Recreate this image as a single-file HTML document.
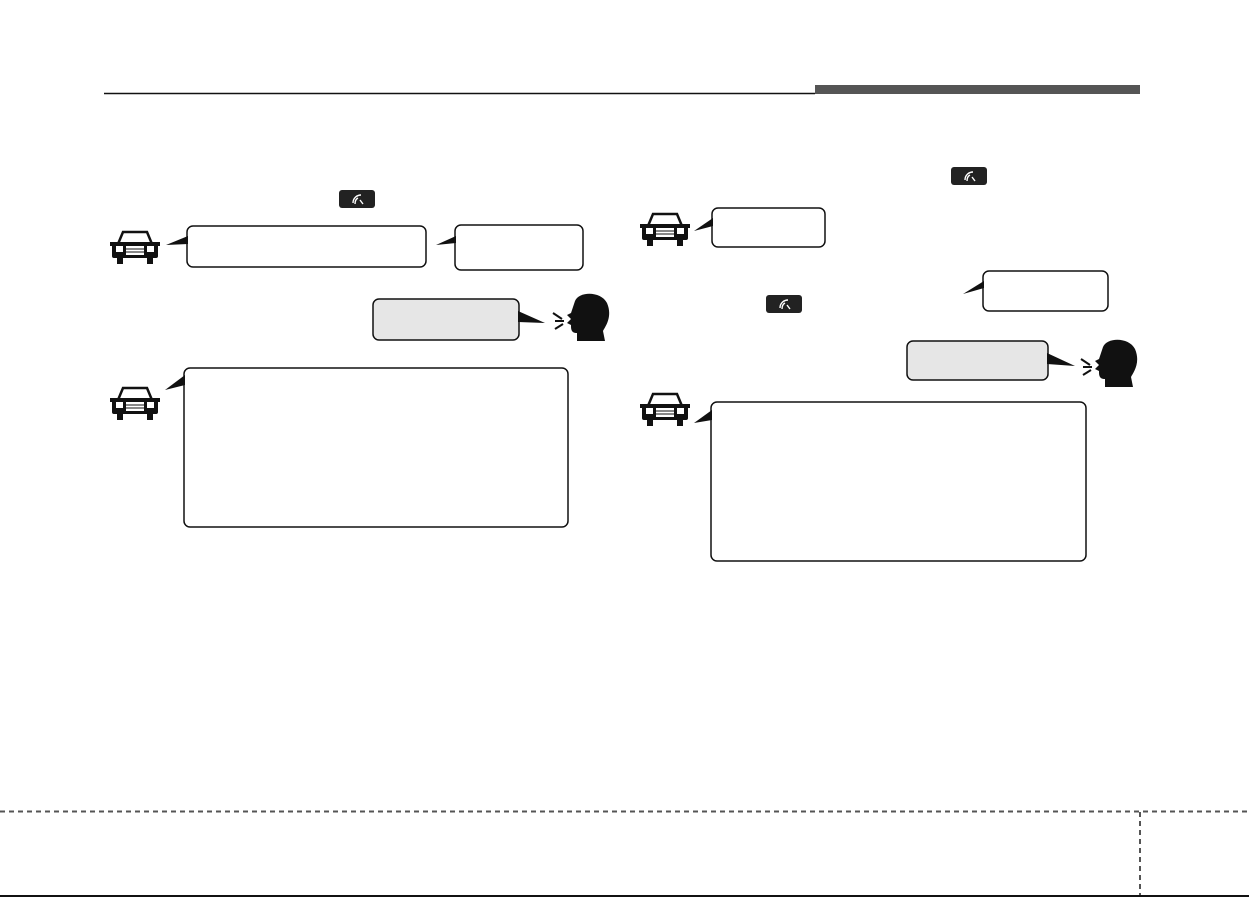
<!DOCTYPE html>
<html><head><meta charset="utf-8"><style>
html,body{margin:0;padding:0;background:#fff;}
svg{display:block}
</style></head><body>
<svg width="1249" height="897" viewBox="0 0 1249 897" xmlns="http://www.w3.org/2000/svg">
<defs>
<g id="car">
<path d="M8 14 L13 2 L37 2 L42 14 Z" fill="none" stroke="#111" stroke-width="2.5"/>
<rect x="2" y="12" width="46" height="16" rx="2" fill="#111"/>
<rect x="0" y="12" width="5" height="4" fill="#111"/>
<rect x="45" y="12" width="5" height="4" fill="#111"/>
<rect x="6" y="16" width="7" height="6" fill="#fff"/>
<rect x="37" y="16" width="7" height="6" fill="#fff"/>
<rect x="16" y="16" width="18" height="9" fill="#fff"/>
<line x1="16" y1="19" x2="34" y2="19" stroke="#111"/>
<line x1="16" y1="22" x2="34" y2="22" stroke="#111"/>
<rect x="7" y="28" width="6" height="6" fill="#111"/>
<rect x="37" y="28" width="6" height="6" fill="#111"/>
</g>
<g id="head">
<path d="M22 8 C26 -2 48 -2 54 10 C60 24 52 34 50 38 L52 48 L24 48 L24 40 C18 40 18 36 18 32 L14 30 L18 26 L14 22 L18 20 Z" fill="#111"/>
<line x1="0" y1="20" x2="9" y2="26" stroke="#111" stroke-width="2"/>
<line x1="2" y1="28" x2="11" y2="28" stroke="#111" stroke-width="2"/>
<line x1="2" y1="36" x2="10" y2="31" stroke="#111" stroke-width="2"/>
</g>
<g id="btn">
<rect x="0" y="0" width="36" height="18" rx="3" fill="#222"/>
<path d="M14 13 C14 8 18 5 22 5 M19 8 C17 9 16 11 16 14 M21 10 L24 14" stroke="#fff" stroke-width="1.4" fill="none"/>
</g>
</defs>

<line x1="104" y1="93.5" x2="815" y2="93.5" stroke="#111" stroke-width="1.5"/>
<rect x="815" y="85" width="325" height="9" fill="#555"/>

<line x1="0" y1="811.5" x2="1249" y2="811.5" stroke="#555" stroke-width="2" stroke-dasharray="5,4"/>
<line x1="1140" y1="812" x2="1140" y2="897" stroke="#555" stroke-width="2" stroke-dasharray="5,4"/>
<line x1="0" y1="896" x2="1249" y2="896" stroke="#111" stroke-width="2"/>

<!-- left -->
<use href="#btn" x="339" y="190"/>
<use href="#car" x="110" y="230"/>
<rect x="187" y="226" width="239" height="41" rx="6" fill="#fff" stroke="#111" stroke-width="1.5"/>
<path d="M188 236 L166 245 L188 244" fill="#111"/>
<rect x="455" y="225" width="128" height="45" rx="6" fill="#fff" stroke="#111" stroke-width="1.5"/>
<path d="M456 236 L436 245 L456 243" fill="#111"/>
<rect x="373" y="299" width="146" height="41" rx="6" fill="#e6e6e6" stroke="#111" stroke-width="1.5"/>
<path d="M518 311 L545 323 L518 322" fill="#111"/>
<use href="#head" x="553" y="293"/>
<use href="#car" x="110" y="386"/>
<rect x="184" y="368" width="384" height="159" rx="6" fill="#fff" stroke="#111" stroke-width="1.5"/>
<path d="M185 375 L165 390 L185 385" fill="#111"/>

<!-- right -->
<use href="#btn" x="951" y="167"/>
<use href="#car" x="640" y="212"/>
<rect x="712" y="208" width="113" height="39" rx="6" fill="#fff" stroke="#111" stroke-width="1.5"/>
<path d="M713 218 L694 231 L713 226" fill="#111"/>
<rect x="983" y="271" width="125" height="40" rx="6" fill="#fff" stroke="#111" stroke-width="1.5"/>
<path d="M984 281 L963 294 L984 288" fill="#111"/>
<use href="#btn" x="766" y="295"/>
<rect x="907" y="341" width="141" height="39" rx="6" fill="#e6e6e6" stroke="#111" stroke-width="1.5"/>
<path d="M1047 353 L1075 366 L1047 364" fill="#111"/>
<use href="#head" x="1081" y="339"/>
<use href="#car" x="640" y="392"/>
<rect x="711" y="402" width="375" height="159" rx="6" fill="#fff" stroke="#111" stroke-width="1.5"/>
<path d="M712 410 L694 423 L712 420" fill="#111"/>
</svg>
</body></html>
